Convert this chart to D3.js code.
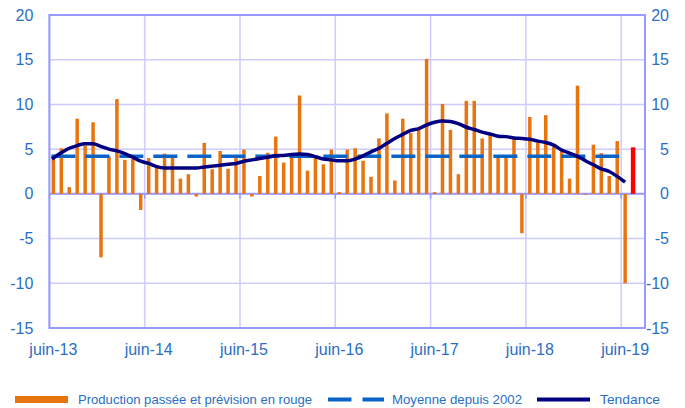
<!DOCTYPE html>
<meta charset="utf-8">
<style>
body { margin: 0; background: #fff; }
text { font-family: "Liberation Sans", Arial, sans-serif; }
.tick text { fill: #2a6fc4; font-size: 16px; }
.legend text { fill: #2a6fc4; font-size: 13px; }
</style>
<svg width="685" height="408" class="top"></svg>
<script src="https://cdnjs.cloudflare.com/ajax/libs/d3/7.8.5/d3.min.js"></script>
<script>

// monthly production growth, juin-13 .. juin-19
var production = [
  3.9, 5.1, 0.75, 8.4, 5.4, 8.0, -7.1, 4.2, 10.6, 3.8, 3.9, -1.8,
  4.0, 3.0, 4.5, 4.1, 1.7, 2.2, -0.3, 5.7, 2.75, 4.8, 2.8, 4.0,
  4.95, -0.3, 2.0, 4.6, 6.4, 3.5, 4.1, 11.0, 2.6, 4.1, 3.3, 4.95,
  0.2, 4.95, 5.1, 3.7, 1.9, 6.2, 9.0, 1.5, 8.4, 6.8, 7.3, 15.1,
  0.2, 10.05, 7.15, 2.2, 10.4, 10.4, 6.2, 6.6, 4.2, 4.2, 6.1, -4.4,
  8.6, 5.7, 8.8, 5.25, 5.0, 1.7, 12.1, -0.1, 5.5, 4.55, 2.0, 5.9, -10.0
];
var forecast = 5.2;   // juil-19, in red
var trend = [
  3.9, 4.6, 5.1, 5.4, 5.6, 5.6, 5.3, 5.0, 4.8, 4.5, 4.1, 3.65,
  3.4, 3.05, 2.9, 2.9, 2.9, 2.9, 2.9, 3.0, 3.1, 3.2, 3.3, 3.4,
  3.65, 3.8, 3.95, 4.1, 4.25, 4.3, 4.4, 4.45, 4.4, 4.15, 3.9, 3.8,
  3.7, 3.7, 3.9, 4.25, 4.7, 5.1, 5.65, 6.2, 6.65, 7.1, 7.3, 7.7,
  8.0, 8.15, 8.1, 7.85, 7.45, 7.2, 6.9, 6.7, 6.45, 6.4, 6.25, 6.2,
  6.1, 5.9, 5.75, 5.45, 4.9, 4.55, 4.2, 3.7, 3.25, 2.8, 2.5, 1.95, 1.3
];
var average = 4.2;
var yTicks = [-15, -10, -5, 0, 5, 10, 15, 20];
var xLabels = ["juin-13", "juin-14", "juin-15", "juin-16", "juin-17", "juin-18", "juin-19"];

// month categories (one spare slot at the right end)
var moisNoms = ["janv", "févr", "mars", "avr", "mai", "juin", "juil", "août", "sept", "oct", "nov", "déc"];
var months = [];
for (var k = 0; k < 75; k++) {
  var m = (5 + k) % 12, yr = 13 + Math.floor((5 + k) / 12);
  months.push(moisNoms[m] + "-" + yr);
}

var svg = d3.select(".top"),
    margin = {top: 15, right: 40, bottom: 80, left: 49.4},
    width = 645 - margin.left,
    height = 328 - margin.top,
    g = svg.append("g").attr("transform", "translate(" + margin.left + "," + margin.top + ")");

var x = d3.scaleBand().domain(months).range([0, width]).padding(0);
var y = d3.scaleLinear().domain([-15, 20]).range([height, 0]);
var cx = function(i) { return x(months[i]) + x.bandwidth() / 2; };
var fmt = function(d) { return String(d); };

// horizontal grid
g.append("g")
    .selectAll("line")
    .data(yTicks)
    .enter().append("line")
      .attr("x1", 0).attr("x2", width)
      .attr("y1", function(d) { return y(d); })
      .attr("y2", function(d) { return y(d); })
      .attr("stroke", "#ccccff")
      .attr("stroke-width", 1.5);

// vertical grid at each june
g.append("g")
    .selectAll("line")
    .data(xLabels)
    .enter().append("line")
      .attr("x1", function(d) { return x(d); })
      .attr("x2", function(d) { return x(d); })
      .attr("y1", 0).attr("y2", height)
      .attr("stroke", "#ccccff")
      .attr("stroke-width", 1.5);

// frame
g.append("rect")
    .attr("width", width).attr("height", height)
    .attr("fill", "none")
    .attr("stroke", "#9999ff")
    .attr("stroke-width", 2);

// zero axis with small ticks
g.append("line")
    .attr("x1", 0).attr("x2", width)
    .attr("y1", y(0)).attr("y2", y(0))
    .attr("stroke", "#9999ff").attr("stroke-width", 2);
g.append("g")
    .selectAll("line")
    .data(xLabels)
    .enter().append("line")
      .attr("x1", function(d) { return x(d); })
      .attr("x2", function(d) { return x(d); })
      .attr("y1", y(0)).attr("y2", y(0) + 5)
      .attr("stroke", "#9999ff").attr("stroke-width", 1.5);

// bars
g.append("g")
    .selectAll("rect")
    .data(production)
    .enter().append("rect")
      .attr("x", function(d, i) { return cx(i) - 1.75; })
      .attr("y", function(d) { return y(Math.max(0, d)); })
      .attr("width", 3.5)
      .attr("height", function(d) { return Math.abs(y(d) - y(0)); })
      .attr("fill", "#e8740f");

g.append("rect")
    .attr("x", cx(production.length) - 2.25)
    .attr("y", y(forecast))
    .attr("width", 4.5)
    .attr("height", y(0) - y(forecast))
    .attr("fill", "#ff0000");

// average since 2002
g.append("line")
    .attr("x1", cx(0) - 2).attr("x2", cx(production.length - 1))
    .attr("y1", y(average)).attr("y2", y(average))
    .attr("stroke", "#0a64c8")
    .attr("stroke-width", 3.5)
    .attr("stroke-dasharray", "24,10");

// trend
var line = d3.line()
    .x(function(d, i) { return cx(i) - (i === 0 ? 1.5 : 0); })
    .y(function(d) { return y(d); })
    .curve(d3.curveMonotoneX);

g.append("path")
    .datum(trend)
    .attr("fill", "none")
    .attr("stroke", "#000080")
    .attr("stroke-width", 3.5)
    .attr("d", line);

// y axes
g.append("g")
    .attr("transform", "translate(-13,0)")
    .call(d3.axisLeft(y).tickValues(yTicks).tickSize(0).tickFormat(fmt))
    .call(function(a) { a.select(".domain").remove(); });

g.append("g")
    .attr("transform", "translate(" + (width + 27) + ",0)")
    .call(d3.axisLeft(y).tickValues(yTicks).tickSize(0).tickFormat(fmt))
    .call(function(a) { a.select(".domain").remove(); });

// x labels
var xa = g.append("g")
    .attr("transform", "translate(0," + (height + 13) + ")")
    .call(d3.axisBottom(x).tickValues(xLabels).tickSize(0));
xa.select(".domain").remove();

// legend
var legend = svg.append("g").attr("class", "legend");
legend.append("rect")
    .attr("x", 15).attr("y", 396).attr("width", 53).attr("height", 7)
    .attr("fill", "#e8740f");
legend.append("text")
    .attr("x", 78).attr("y", 404)
    .attr("textLength", 234).attr("lengthAdjust", "spacingAndGlyphs")
    .text("Production passée et prévision en rouge");
legend.append("line")
    .attr("x1", 328).attr("x2", 384).attr("y1", 399.5).attr("y2", 399.5)
    .attr("stroke", "#0a64c8").attr("stroke-width", 4)
    .attr("stroke-dasharray", "23.5,11");
legend.append("text")
    .attr("x", 392).attr("y", 404)
    .attr("textLength", 130).attr("lengthAdjust", "spacingAndGlyphs")
    .text("Moyenne depuis 2002");
legend.append("line")
    .attr("x1", 537).attr("x2", 590).attr("y1", 399.5).attr("y2", 399.5)
    .attr("stroke", "#000080").attr("stroke-width", 4);
legend.append("text")
    .attr("x", 600).attr("y", 404)
    .attr("textLength", 60).attr("lengthAdjust", "spacingAndGlyphs")
    .text("Tendance");

</script>
